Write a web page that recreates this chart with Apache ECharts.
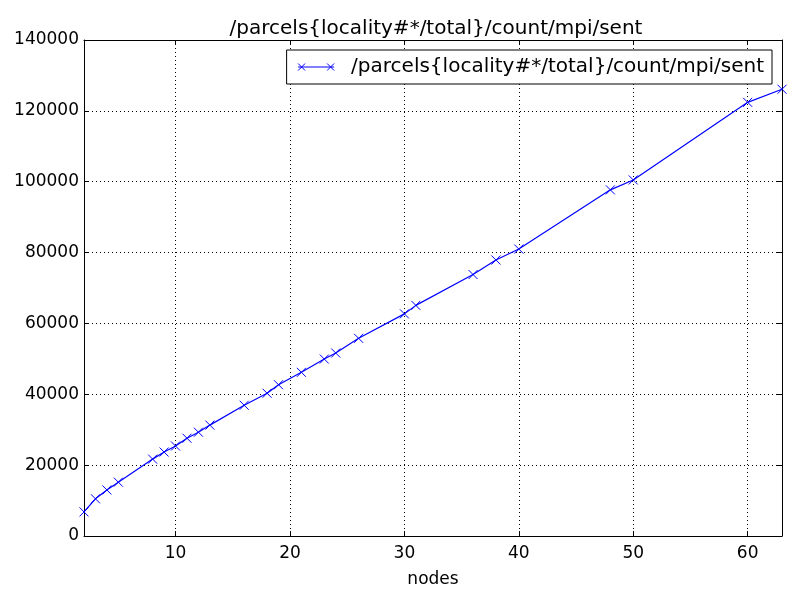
<!DOCTYPE html>
<html>
<head>
<meta charset="utf-8">
<title>parcels sent</title>
<script src="https://cdn.jsdelivr.net/npm/echarts@6/dist/echarts.min.js"></script>
<style>
  html, body { margin: 0; padding: 0; background: #fff; }
  #chart { width: 800px; height: 600px; }
</style>
</head>
<body>
<div id="chart"></div>
<script>
var seriesName = '/parcels{locality#*/total}/count/mpi/sent';
var nodes = [2, 3, 4, 5, 8, 9, 10, 11, 12, 13, 16, 18, 19, 21, 23, 24, 26, 30, 31, 36, 38, 40, 48, 50, 60, 63];
var sent = [6800, 10500, 13000, 15200, 21700, 23700, 25400, 27600, 29300, 31300, 36900, 40300, 42700, 46200, 49950, 51650, 55800, 62700, 65100, 73800, 77900, 81000, 97700, 100500, 122400, 126100];
var xTicks = [10, 20, 30, 40, 50, 60];
var yTicks = [0, 20000, 40000, 60000, 80000, 100000, 120000, 140000];

var font = 'DejaVu Sans';
var points = nodes.map(function (n, i) { return [n, sent[i]]; });
var crossPath = 'path://M0,0L10,10M10,0L0,10';

var chart = echarts.init(document.getElementById('chart'));

function xAxisDef(pos, main) {
  return {
    type: 'value', position: pos, min: 2, max: 63,
    name: main ? 'nodes' : '', nameLocation: 'middle', nameGap: 35,
    nameTextStyle: { fontFamily: font, fontSize: 17, color: '#000' },
    axisLine: { show: true, onZero: false, lineStyle: { color: '#000', width: 1 } },
    axisTick: { show: true, inside: true, length: 5, customValues: xTicks, lineStyle: { color: '#000' } },
    axisLabel: { show: main, customValues: xTicks, fontFamily: font, fontSize: 17, color: '#000', margin: 9 },
    splitLine: { show: main, lineStyle: { color: '#000', type: [1, 3], width: 1 } }
  };
}
function yAxisDef(pos, main) {
  return {
    type: 'value', position: pos, min: yTicks[0], max: yTicks[yTicks.length - 1], interval: 20000,
    axisLine: { show: true, onZero: false, lineStyle: { color: '#000', width: 1 } },
    axisTick: { show: true, inside: true, length: 5, lineStyle: { color: '#000' } },
    axisLabel: { show: main, fontFamily: font, fontSize: 17, color: '#000', margin: 5,
                 formatter: function (v) { return String(v); } },
    splitLine: { show: main, lineStyle: { color: '#000', type: [1, 3], width: 1 } }
  };
}

chart.setOption({
  animation: false,
  backgroundColor: '#fff',
  title: {
    text: seriesName, left: 431, top: 14, textAlign: 'center',
    textStyle: { fontFamily: font, fontSize: 20, fontWeight: 'normal', color: '#000' }
  },
  grid: { left: 84, right: 18, top: 40, bottom: 64 },
  legend: {
    right: 28, top: 50, orient: 'vertical',
    itemWidth: 36, itemHeight: 10, itemGap: 0,
    padding: [7, 8, 7, 9],
    borderColor: '#000', borderWidth: 1, backgroundColor: '#fff',
    textStyle: { fontFamily: font, fontSize: 20, color: '#000', padding: [0, 0, 0, 12] },
    data: [{ name: seriesName, icon: 'path://M0,5L36,5M0,1.5L7,8.5M7,1.5L0,8.5M29,1.5L36,8.5M36,1.5L29,8.5',
             itemStyle: { color: 'none', borderColor: '#0000ff', borderWidth: 1 } }]
  },
  xAxis: [xAxisDef('bottom', true), xAxisDef('top', false)],
  yAxis: [yAxisDef('left', true), yAxisDef('right', false)],
  series: [{
    name: seriesName, type: 'line', data: points,
    symbol: crossPath, symbolSize: 9, showAllSymbol: true,
    lineStyle: { color: '#0000ff', width: 1.2 },
    itemStyle: { color: 'none', borderColor: '#0000ff', borderWidth: 1 }
  }]
});
</script>
</body>
</html>
